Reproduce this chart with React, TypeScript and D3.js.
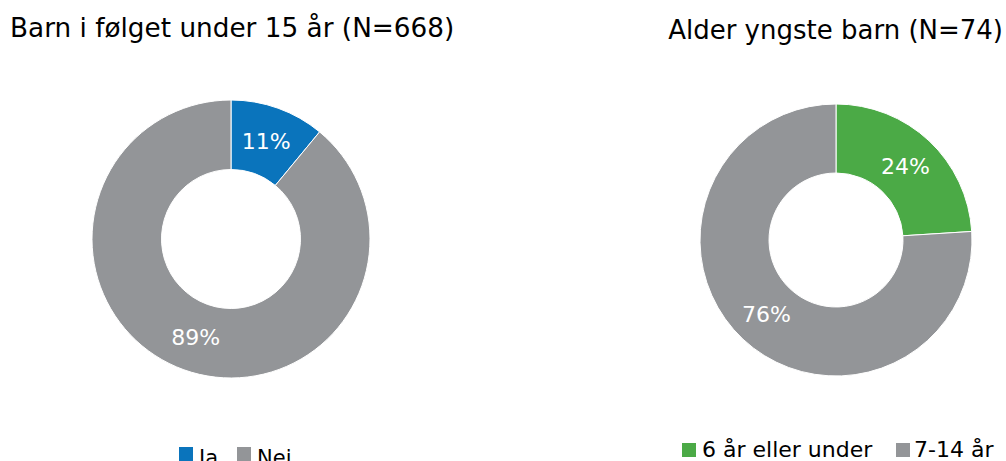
import React from "react";
import * as d3 from "d3";

const leftTitle = "Barn i følget under 15 år (N=668)";
const leftCategories = ["Ja", "Nei"];
const leftValues = [11, 89];
const leftColors = ["#0A74BC", "#939598"];

const rightTitle = "Alder yngste barn (N=74)";
const rightCategories = ["6 år eller under", "7-14 år"];
const rightValues = [24, 76];
const rightColors = ["#4BAA46", "#939598"];

const FONT = "'DejaVu Sans', 'Open Sans', sans-serif";

type DonutProps = {
  cx: number; cy: number; r: number; r0: number;
  values: number[]; colors: string[];
};

function Donut({ cx, cy, r, r0, values, colors }: DonutProps) {
  const pie = d3.pie<number>().sort(null).value((d) => d);
  const arcs = pie(values);
  const arc = d3.arc<d3.PieArcDatum<number>>().innerRadius(r0).outerRadius(r);
  return (
    <g transform={`translate(${cx},${cy})`}>
      {arcs.map((a, i) => (
        <path key={i} d={arc(a) || ""} fill={colors[i]} stroke="#fff" strokeWidth={1} />
      ))}
      {arcs.map((a, i) => {
        const [x, y] = arc.centroid(a);
        return (
          <text key={"t" + i} x={x} y={y} dy="0.36em" textAnchor="middle"
            fill="#fff" fontSize={22} fontFamily={FONT}>
            {`${a.data}%`}
          </text>
        );
      })}
    </g>
  );
}

export default function App() {
  return (
    <svg width={1006} height={461} style={{ position: "absolute", left: 0, top: 0 }}>
      <rect width={1006} height={461} fill="#fff" />
      <text x={10} y={37} fontSize={26.3} fontFamily={FONT} fill="#000">{leftTitle}</text>
      <text x={1003} y={39} textAnchor="end" fontSize={26} fontFamily={FONT} fill="#000">{rightTitle}</text>

      <Donut cx={231} cy={239} r={139} r0={69.5} values={leftValues} colors={leftColors} />
      <Donut cx={836} cy={240} r={136} r0={67} values={rightValues} colors={rightColors} />

      {/* left legend */}
      <g fontFamily={FONT} fontSize={21} fill="#000">
        <rect x={179} y={447} width={14} height={14} fill={leftColors[0]} />
        <text x={199} y={465}>{leftCategories[0]}</text>
        <rect x={237} y={447} width={14} height={14} fill={leftColors[1]} />
        <text x={257} y={465}>{leftCategories[1]}</text>
      </g>
      {/* right legend */}
      <g fontFamily={FONT} fontSize={22} fill="#000">
        <rect x={682} y={443} width={14} height={14} fill={rightColors[0]} />
        <text x={702} y={457}>{rightCategories[0]}</text>
        <rect x={896} y={443} width={14} height={14} fill={rightColors[1]} />
        <text x={914} y={457}>{rightCategories[1]}</text>
      </g>
    </svg>
  );
}
